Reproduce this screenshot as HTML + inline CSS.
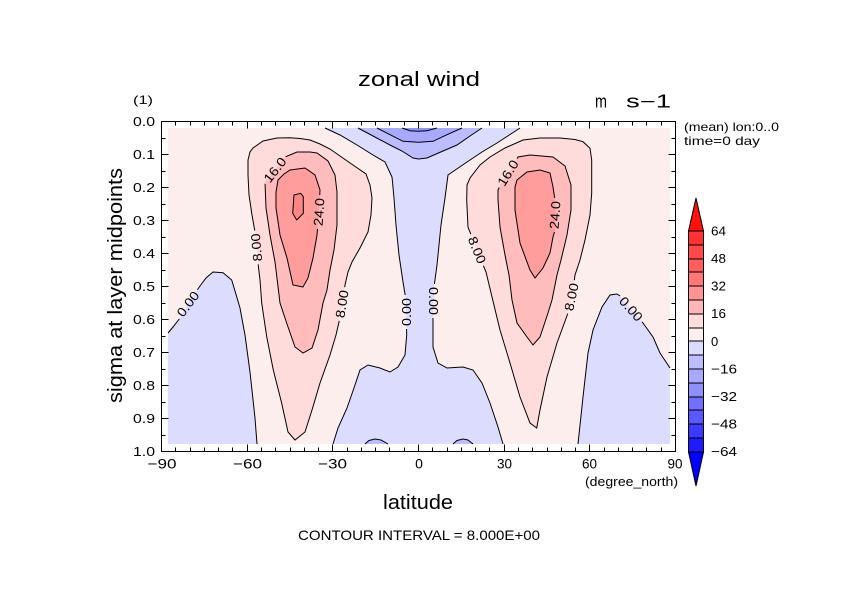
<!DOCTYPE html>
<html><head><meta charset="utf-8"><style>
html,body{margin:0;padding:0;background:#fff;}
svg{display:block;font-family:"Liberation Sans",sans-serif;}
</style></head><body>
<svg width="842" height="595" viewBox="0 0 842 595" xmlns="http://www.w3.org/2000/svg">
<defs>
<mask id="m" maskUnits="userSpaceOnUse" x="0" y="0" width="842" height="595">
<rect width="842" height="595" fill="#fff"/>
<g fill="#000">
<rect transform="translate(188,304) rotate(-53)" x="-17" y="-6" width="34" height="12"/>
<rect transform="translate(256.5,247.5) rotate(-95)" x="-17" y="-6" width="34" height="12"/>
<rect transform="translate(275,170) rotate(-52)" x="-17" y="-6" width="34" height="12"/>
<rect transform="translate(319,212) rotate(-86)" x="-17" y="-6" width="34" height="12"/>
<rect transform="translate(342,304) rotate(-81)" x="-17" y="-6" width="34" height="12"/>
<rect transform="translate(406.3,312) rotate(-90)" x="-17" y="-6" width="34" height="12"/>
<rect transform="translate(433.5,301) rotate(90)" x="-17" y="-6" width="34" height="12"/>
<rect transform="translate(477,250) rotate(68)" x="-17" y="-6" width="34" height="12"/>
<rect transform="translate(508,173) rotate(-58)" x="-17" y="-6" width="34" height="12"/>
<rect transform="translate(555,215) rotate(-86)" x="-17" y="-6" width="34" height="12"/>
<rect transform="translate(571.5,297) rotate(-78)" x="-17" y="-6" width="34" height="12"/>
<rect transform="translate(631,309) rotate(48)" x="-17" y="-6" width="34" height="12"/>
</g>
</mask>
<path id="xt" d="M161.5,451.5v-7 M175.5,451.5v-4 M190.5,451.5v-4 M204.5,451.5v-4 M218.5,451.5v-4 M232.5,451.5v-4 M247.5,451.5v-7 M261.5,451.5v-4 M275.5,451.5v-4 M290.5,451.5v-4 M304.5,451.5v-4 M318.5,451.5v-4 M332.5,451.5v-7 M347.5,451.5v-4 M361.5,451.5v-4 M375.5,451.5v-4 M389.5,451.5v-4 M404.5,451.5v-4 M418.5,451.5v-7 M432.5,451.5v-4 M447.5,451.5v-4 M461.5,451.5v-4 M475.5,451.5v-4 M489.5,451.5v-4 M504.5,451.5v-7 M518.5,451.5v-4 M532.5,451.5v-4 M547.5,451.5v-4 M561.5,451.5v-4 M575.5,451.5v-4 M589.5,451.5v-7 M604.5,451.5v-4 M618.5,451.5v-4 M632.5,451.5v-4 M646.5,451.5v-4 M661.5,451.5v-4"/>
<path id="yt" d="M161.5,121.5h7 M161.5,138.5h4 M161.5,154.5h7 M161.5,171.5h4 M161.5,187.5h7 M161.5,204.5h4 M161.5,220.5h7 M161.5,237.5h4 M161.5,253.5h7 M161.5,270.5h4 M161.5,286.5h7 M161.5,303.5h4 M161.5,319.5h7 M161.5,336.5h4 M161.5,352.5h7 M161.5,369.5h4 M161.5,385.5h7 M161.5,402.5h4 M161.5,418.5h7 M161.5,435.5h4 M161.5,451.5h7"/>
</defs>
<rect width="842" height="595" fill="#fff"/>

<rect x="168" y="128" width="502" height="316" fill="#fdeeee"/>
<g stroke="none">
<path fill="#dcdcff" d="M325,128 L340,135 L357,145 L373,155 L385,162 L392,177 L394,198 L396,225 L399,255 L403,282 L406,300 L406.7,335 L405,355 L398,367 L390,372 L380,368 L368,365 L360,370 L355,385 L347,408 L338,428 L333,444 L503,444 L498,427 L490,403 L482,383 L473,370 L463,367 L447,368 L438,363 L433,347 L433,317 L434,287 L437,265 L441,225 L445,198 L448,175 L467,162 L482,152 L497,143 L520,128 Z"/>
<path fill="#dcdcff" d="M168,333 L173,327 L180,318 L190,300 L200,286 L206,278 L213,272 L223,272.7 L231.7,280 L236.7,296.7 L240,308 L245,335 L250,372 L255,418 L257,444 L168,444 Z"/>
<path fill="#dcdcff" d="M670,368 L660,353 L653,337 L643,323 L631,309 L620,296 L617,294 L610,295 L602,307 L593,330 L588,353 L583,397 L578,444 L670,444 Z"/>
<path fill="#bcbcff" d="M358,128 L373,136 L390,145 L402,151 L413,158 L418.5,159 L427,158 L443,151 L457,145 L470,136 L482,128 Z"/>
<path fill="#a8a8ff" d="M377,128 L390,134.7 L403,141.3 L418.5,142.3 L433,141.3 L447,134.7 L462,128 Z"/>
<path fill="#9090ff" d="M402,128 L410,130.7 L418.5,131.3 L427,130.7 L437,128 Z"/>
<path fill="#bcbcff" d="M365,444 L369,440.5 L375,439 L381,440 L388,444 Z"/>
<path fill="#bcbcff" d="M453,444 L457,440.5 L463,439 L468,440 L473,444 Z"/>

<path fill="#ffdcdc" d="M295,440 L288,432 L281.7,403.3 L273.3,370 L266.7,336.7 L261.7,303 L260,280 L258,263 L255,232 L252,215 L249,195 L248,175 L248,160 L250,152 L253,148 L263,141 L277,138 L290,137.7 L300,138.5 L310,140 L320,144 L330,149 L340,156 L353,165 L366,174 L370,185 L372,198 L371,215 L368,232 L360,248 L352,262 L348,272 L345,285 L342,305 L339,322 L336,335 L330,355 L320,383 L312,410 L305,432 Z"/>
<path fill="#ffbcbc" d="M303,353 L295,347 L287,324 L280,303 L276,270 L275,262 L270,235 L266,208 L265,182 L270,176 L275,170 L280,163 L285,157 L297,152 L310,152 L317,153 L328,161 L335,175 L337,192 L337,225 L334,250 L330,270 L327,290 L323,303 L318,330 L312,348 Z"/>
<path fill="#ff9c9c" d="M303,287 L293,285 L287,258 L280,235 L276,208 L276,192 L278,180 L284,174 L290,170 L305,168 L315,175 L320,190 L319,211 L317,235 L313,258 L308,278 Z"/>
<path fill="#ff8686" d="M294,195 L300.7,193.3 L303.3,196.7 L303.3,213.3 L296.7,220 L292.7,213.3 Z"/>

<path fill="#ffdcdc" d="M536.7,428 L530,423 L520,397 L510,363 L500,330 L492,297 L486,272 L477,250 L468,227 L466.7,200 L467,185 L470,178 L480,165 L490,157 L505,148 L523,140 L540,138 L560,138 L575,139.5 L583,141.7 L590,148.3 L591.7,160 L591.7,193 L590,215 L585,240 L580,260 L575,275 L572,297 L568,313 L557,343 L547,377 L540,410 Z"/>
<path fill="#ffbcbc" d="M533,345 L527,337 L517,323 L512,300 L509,275 L505,255 L500,227 L498,200 L498,190 L503,180 L509,173 L518,157 L530,155 L553,157 L565,166 L571,185 L571,210 L567,235 L561,260 L557,275 L552,300 L548,313 L540,337 Z"/>
<path fill="#ff9c9c" d="M535,278 L530,270 L520,243 L515,210 L515,187 L517,180 L527,172 L540,170 L550,173 L553,187 L555,200 L556,215 L555,230 L553,237 L550,253 L543,268 Z"/>
</g>

<g fill="none" stroke="#000" stroke-width="1" mask="url(#m)">
<path d="M325,128 L340,135 L357,145 L373,155 L385,162 L392,177 L394,198 L396,225 L399,255 L403,282 L406,300 L406.7,335 L405,355 L398,367 L390,372 L380,368 L368,365 L360,370 L355,385 L347,408 L338,428 L333,444"/>
<path d="M503,444 L498,427 L490,403 L482,383 L473,370 L463,367 L447,368 L438,363 L433,347 L433,317 L434,287 L437,265 L441,225 L445,198 L448,175 L467,162 L482,152 L497,143 L520,128"/>
<path d="M168,333 L173,327 L180,318 L190,300 L200,286 L206,278 L213,272 L223,272.7 L231.7,280 L236.7,296.7 L240,308 L245,335 L250,372 L255,418 L257,444"/>
<path d="M670,368 L660,353 L653,337 L643,323 L631,309 L620,296 L617,294 L610,295 L602,307 L593,330 L588,353 L583,397 L578,444"/>
<path d="M358,128 L373,136 L390,145 L402,151 L413,158 L418.5,159 L427,158 L443,151 L457,145 L470,136 L482,128"/>
<path d="M377,128 L390,134.7 L403,141.3 L418.5,142.3 L433,141.3 L447,134.7 L462,128"/>
<path d="M402,128 L410,130.7 L418.5,131.3 L427,130.7 L437,128"/>
<path d="M365,444 L369,440.5 L375,439 L381,440 L388,444"/>
<path d="M453,444 L457,440.5 L463,439 L468,440 L473,444"/>
<path d="M295,440 L288,432 L281.7,403.3 L273.3,370 L266.7,336.7 L261.7,303 L260,280 L258,263 L255,232 L252,215 L249,195 L248,175 L248,160 L250,152 L253,148 L263,141 L277,138 L290,137.7 L300,138.5 L310,140 L320,144 L330,149 L340,156 L353,165 L366,174 L370,185 L372,198 L371,215 L368,232 L360,248 L352,262 L348,272 L345,285 L342,305 L339,322 L336,335 L330,355 L320,383 L312,410 L305,432 Z"/>
<path d="M303,353 L295,347 L287,324 L280,303 L276,270 L275,262 L270,235 L266,208 L265,182 L270,176 L275,170 L280,163 L285,157 L297,152 L310,152 L317,153 L328,161 L335,175 L337,192 L337,225 L334,250 L330,270 L327,290 L323,303 L318,330 L312,348 Z"/>
<path d="M303,287 L293,285 L287,258 L280,235 L276,208 L276,192 L278,180 L284,174 L290,170 L305,168 L315,175 L320,190 L319,211 L317,235 L313,258 L308,278 Z"/>
<path d="M294,195 L300.7,193.3 L303.3,196.7 L303.3,213.3 L296.7,220 L292.7,213.3 Z"/>
<path d="M536.7,428 L530,423 L520,397 L510,363 L500,330 L492,297 L486,272 L477,250 L468,227 L466.7,200 L467,185 L470,178 L480,165 L490,157 L505,148 L523,140 L540,138 L560,138 L575,139.5 L583,141.7 L590,148.3 L591.7,160 L591.7,193 L590,215 L585,240 L580,260 L575,275 L572,297 L568,313 L557,343 L547,377 L540,410 Z"/>
<path d="M533,345 L527,337 L517,323 L512,300 L509,275 L505,255 L500,227 L498,200 L498,190 L503,180 L509,173 L518,157 L530,155 L553,157 L565,166 L571,185 L571,210 L567,235 L561,260 L557,275 L552,300 L548,313 L540,337 Z"/>
<path d="M535,278 L530,270 L520,243 L515,210 L515,187 L517,180 L527,172 L540,170 L550,173 L553,187 L555,200 L556,215 L555,230 L553,237 L550,253 L543,268 Z"/>
</g>

<g font-size="13" fill="#000" text-anchor="middle">
<text transform="translate(188,304) rotate(-53)" y="4.5" textLength="28" lengthAdjust="spacingAndGlyphs">0.00</text>
<text transform="translate(256.5,247.5) rotate(-95)" y="4.5" textLength="28" lengthAdjust="spacingAndGlyphs">8.00</text>
<text transform="translate(275,170) rotate(-52)" y="4.5" textLength="28" lengthAdjust="spacingAndGlyphs">16.0</text>
<text transform="translate(319,212) rotate(-86)" y="4.5" textLength="28" lengthAdjust="spacingAndGlyphs">24.0</text>
<text transform="translate(342,304) rotate(-81)" y="4.5" textLength="28" lengthAdjust="spacingAndGlyphs">8.00</text>
<text transform="translate(406.3,312) rotate(-90)" y="4.5" textLength="28" lengthAdjust="spacingAndGlyphs">0.00</text>
<text transform="translate(433.5,301) rotate(90)" y="4.5" textLength="28" lengthAdjust="spacingAndGlyphs">0.00</text>
<text transform="translate(477,250) rotate(68)" y="4.5" textLength="28" lengthAdjust="spacingAndGlyphs">8.00</text>
<text transform="translate(508,173) rotate(-58)" y="4.5" textLength="28" lengthAdjust="spacingAndGlyphs">16.0</text>
<text transform="translate(555,215) rotate(-86)" y="4.5" textLength="28" lengthAdjust="spacingAndGlyphs">24.0</text>
<text transform="translate(571.5,297) rotate(-78)" y="4.5" textLength="28" lengthAdjust="spacingAndGlyphs">8.00</text>
<text transform="translate(631,309) rotate(48)" y="4.5" textLength="28" lengthAdjust="spacingAndGlyphs">0.00</text>
</g>

<g fill="none" stroke="#000" stroke-width="1" shape-rendering="crispEdges">
<rect x="161.5" y="121.5" width="514" height="330"/>
<use href="#xt"/>
<use href="#xt" transform="translate(0,573) scale(1,-1)"/>
<use href="#yt"/>
<use href="#yt" transform="translate(837,0) scale(-1,1)"/>
</g>

<g font-size="14" fill="#000" text-anchor="middle">
<text x="162" y="468.5" textLength="29" lengthAdjust="spacingAndGlyphs">−90</text>
<text x="247.5" y="468.5" textLength="29" lengthAdjust="spacingAndGlyphs">−60</text>
<text x="332.5" y="468.5" textLength="29" lengthAdjust="spacingAndGlyphs">−30</text>
<text x="419" y="468.5">0</text>
<text x="504.5" y="468.5" textLength="15" lengthAdjust="spacingAndGlyphs">30</text>
<text x="589.5" y="468.5" textLength="15" lengthAdjust="spacingAndGlyphs">60</text>
<text x="675" y="468.5" textLength="15" lengthAdjust="spacingAndGlyphs">90</text>
</g>
<g font-size="13" fill="#000" text-anchor="end">
<text x="155" y="126" textLength="22" lengthAdjust="spacingAndGlyphs">0.0</text>
<text x="155" y="159" textLength="22" lengthAdjust="spacingAndGlyphs">0.1</text>
<text x="155" y="192" textLength="22" lengthAdjust="spacingAndGlyphs">0.2</text>
<text x="155" y="225" textLength="22" lengthAdjust="spacingAndGlyphs">0.3</text>
<text x="155" y="258" textLength="22" lengthAdjust="spacingAndGlyphs">0.4</text>
<text x="155" y="291" textLength="22" lengthAdjust="spacingAndGlyphs">0.5</text>
<text x="155" y="324" textLength="22" lengthAdjust="spacingAndGlyphs">0.6</text>
<text x="155" y="357" textLength="22" lengthAdjust="spacingAndGlyphs">0.7</text>
<text x="155" y="390" textLength="22" lengthAdjust="spacingAndGlyphs">0.8</text>
<text x="155" y="423" textLength="22" lengthAdjust="spacingAndGlyphs">0.9</text>
<text x="155" y="456" textLength="22" lengthAdjust="spacingAndGlyphs">1.0</text>
</g>

<g fill="#000">
<text x="358" y="86" font-size="20" textLength="122" lengthAdjust="spacingAndGlyphs">zonal wind</text>
<text x="595" y="107.5" font-size="18" textLength="12" lengthAdjust="spacingAndGlyphs">m</text>
<text x="626" y="107.5" font-size="18" textLength="45" lengthAdjust="spacingAndGlyphs">s−1</text>
<text x="133" y="104" font-size="12" textLength="20" lengthAdjust="spacingAndGlyphs">(1)</text>
<text x="684" y="131" font-size="12" textLength="95" lengthAdjust="spacingAndGlyphs">(mean) lon:0..0</text>
<text x="684" y="145" font-size="12" textLength="76" lengthAdjust="spacingAndGlyphs">time=0 day</text>
<text x="585" y="486" font-size="13" textLength="93" lengthAdjust="spacingAndGlyphs">(degree_north)</text>
<text x="383" y="509" font-size="20" textLength="70" lengthAdjust="spacingAndGlyphs">latitude</text>
<text transform="translate(122,285.5) rotate(-90)" text-anchor="middle" font-size="20" textLength="235" lengthAdjust="spacingAndGlyphs">sigma at layer midpoints</text>
<text x="298" y="540" font-size="14" textLength="242" lengthAdjust="spacingAndGlyphs">CONTOUR INTERVAL = 8.000E+00</text>
</g>

<g stroke="#000" stroke-width="1">
<path d="M688.5,231 L696,198 L703.5,231 Z" fill="#ff1010"/>
<path d="M688.5,452 L696,486 L703.5,452 Z" fill="#0000ff"/>
<rect x="688.5" y="231" width="15" height="14" fill="#ff3333"/>
<rect x="688.5" y="245" width="15" height="14" fill="#ff4848"/>
<rect x="688.5" y="259" width="15" height="13" fill="#ff5e5e"/>
<rect x="688.5" y="272" width="15" height="14" fill="#ff7878"/>
<rect x="688.5" y="286" width="15" height="14" fill="#ff9292"/>
<rect x="688.5" y="300" width="15" height="14" fill="#ffb6b6"/>
<rect x="688.5" y="314" width="15" height="14" fill="#ffdcdc"/>
<rect x="688.5" y="328" width="15" height="13" fill="#fdeeee"/>
<rect x="688.5" y="341" width="15" height="14" fill="#dcdcff"/>
<rect x="688.5" y="355" width="15" height="14" fill="#bcbcff"/>
<rect x="688.5" y="369" width="15" height="14" fill="#a8a8ff"/>
<rect x="688.5" y="383" width="15" height="14" fill="#8e8eff"/>
<rect x="688.5" y="397" width="15" height="13" fill="#7070ff"/>
<rect x="688.5" y="410" width="15" height="14" fill="#5858ff"/>
<rect x="688.5" y="424" width="15" height="14" fill="#3a3aff"/>
<rect x="688.5" y="438" width="15" height="14" fill="#1c1cff"/>
</g>
<g font-size="13" fill="#000">
<text x="711" y="235.5" textLength="15" lengthAdjust="spacingAndGlyphs">64</text>
<text x="711" y="263" textLength="15" lengthAdjust="spacingAndGlyphs">48</text>
<text x="711" y="290.5" textLength="15" lengthAdjust="spacingAndGlyphs">32</text>
<text x="711" y="318" textLength="15" lengthAdjust="spacingAndGlyphs">16</text>
<text x="711" y="346">0</text>
<text x="711" y="373.5" textLength="26" lengthAdjust="spacingAndGlyphs">−16</text>
<text x="711" y="401" textLength="26" lengthAdjust="spacingAndGlyphs">−32</text>
<text x="711" y="428.5" textLength="26" lengthAdjust="spacingAndGlyphs">−48</text>
<text x="711" y="456" textLength="26" lengthAdjust="spacingAndGlyphs">−64</text>
</g>
</svg>
</body></html>
